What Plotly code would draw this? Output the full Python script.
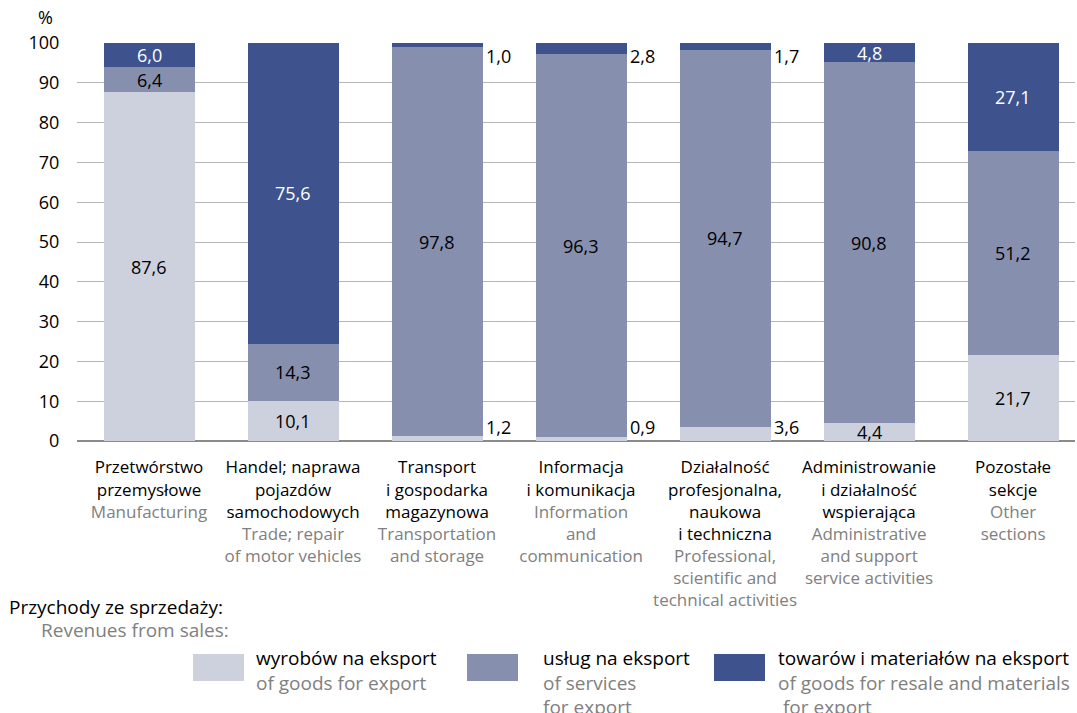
import plotly.graph_objects as go

categories_pl = [
    "Przetwórstwo<br>przemysłowe",
    "Handel; naprawa<br>pojazdów<br>samochodowych",
    "Transport<br>i gospodarka<br>magazynowa",
    "Informacja<br>i komunikacja",
    "Działalność<br>profesjonalna,<br>naukowa<br>i techniczna",
    "Administrowanie<br>i działalność<br>wspierająca",
    "Pozostałe<br>sekcje",
]
categories_en = [
    ["Manufacturing"],
    ["Trade; repair", "of motor vehicles"],
    ["Transportation", "and storage"],
    ["Information", "and", "communication"],
    ["Professional,", "scientific and", "technical activities"],
    ["Administrative", "and support", "service activities"],
    ["Other", "sections"],
]
goods = [87.6, 10.1, 1.2, 0.9, 3.6, 4.4, 21.7]
services = [6.4, 14.3, 97.8, 96.3, 94.7, 90.8, 51.2]
resale = [6.0, 75.6, 1.0, 2.8, 1.7, 4.8, 27.1]

series_pl = ["wyrobów na eksport", "usług na eksport", "towarów i materiałów na eksport"]
series_en = [["of goods for export"], ["of services", "for export"],
             ["of goods for resale and materials", "\u00a0for export"]]
colors = ["#cdd1dd", "#868fae", "#3e528e"]
label_colors = ["#000000", "#000000", "#ffffff"]

GRAY = "#808080"
FONT = "Open Sans"

W, H = 1077, 713
L, R, T, B = 77, 2, 43, 272
PW, PH = W - L - R, H - T - B


def px(x):
    return (x - L) / PW


def py(y):
    return (H - B - y) / PH


x = list(range(len(categories_pl)))
ticktext = []
for pl, en in zip(categories_pl, categories_en):
    ticktext.append(pl + "<br>" + "<br>".join(f"<span style='color:{GRAY}'>{e}</span>" for e in en))

fig = go.Figure()
all_series = [goods, services, resale]
for vals, col, name in zip(all_series, colors, series_pl):
    fig.add_trace(go.Bar(x=x, y=vals, marker=dict(color=col, line=dict(width=0)),
                         name=name, showlegend=False, hoverinfo="skip"))

bargap = 0.368
half = (1 - bargap) / 2


def fmt(v):
    return f"{v:.1f}".replace(".", ",")


VAL_SIZE = 18
annotations = []
for i in x:
    base = 0
    for s, vals in enumerate(all_series):
        v = vals[i]
        if v < 4:
            if s == 0:
                annotations.append(dict(x=i + half, y=0, xref="x", yref="y", text=fmt(v),
                                        showarrow=False, xanchor="left", yanchor="bottom",
                                        xshift=1, yshift=0, font=dict(size=VAL_SIZE, color="#000")))
            else:
                annotations.append(dict(x=i + half, y=100, xref="x", yref="y", text=fmt(v),
                                        showarrow=False, xanchor="left", yanchor="top",
                                        xshift=1, yshift=1, font=dict(size=VAL_SIZE, color="#000")))
        else:
            annotations.append(dict(x=i, y=base + v / 2, xref="x", yref="y", text=fmt(v),
                                    showarrow=False, xanchor="center", yanchor="middle",
                                    font=dict(size=VAL_SIZE, color=label_colors[s])))
        base += v

annotations.append(dict(x=px(45), y=py(17), xref="paper", yref="paper", text="%",
                        xanchor="center", yanchor="middle",
                        showarrow=False, font=dict(size=18, color="#000")))
annotations.append(dict(x=px(7), y=py(607), xref="paper", yref="paper", xanchor="left",
                        yanchor="middle", text="Przychody ze sprzedaży:", showarrow=False,
                        font=dict(size=19, color="#000")))
annotations.append(dict(x=px(39), y=py(630), xref="paper", yref="paper", xanchor="left",
                        yanchor="middle", text="Revenues from sales:", showarrow=False,
                        font=dict(size=19, color=GRAY)))

shapes = []
legend_x = [193, 467, 714]
text_x = [254, 541, 776]
for k in range(3):
    shapes.append(dict(type="rect", xref="paper", yref="paper",
                       x0=px(legend_x[k]), x1=px(legend_x[k] + 51),
                       y0=py(681), y1=py(654), fillcolor=colors[k], line=dict(width=0)))
    txt = series_pl[k] + "<br>" + "<br>".join(f"<span style='color:{GRAY}'>{e}</span>" for e in series_en[k])
    annotations.append(dict(x=px(text_x[k]), y=py(643), xref="paper", yref="paper",
                            xanchor="left", yanchor="top", align="left", text=txt,
                            showarrow=False, font=dict(size=19, color="#000")))

fig.update_layout(
    barmode="stack",
    bargap=bargap,
    width=W, height=H,
    margin=dict(l=L, r=R, t=T, b=B),
    paper_bgcolor="white", plot_bgcolor="white",
    font=dict(family=FONT, size=16, color="#000"),
    annotations=annotations,
    shapes=shapes,
    xaxis=dict(tickmode="array", tickvals=x, ticktext=ticktext, range=[-0.5, 6.43],
               ticks="outside", ticklen=11, tickcolor="rgba(0,0,0,0)",
               tickfont=dict(size=17, color="#000"), showgrid=False, fixedrange=True),
    yaxis=dict(range=[0, 100], dtick=10, showgrid=True, gridcolor="#b5b5b5", gridwidth=1,
               zeroline=True, zerolinecolor="#8a8a8a", zerolinewidth=2,
               ticks="outside", ticklen=13, tickcolor="rgba(0,0,0,0)",
               tickfont=dict(size=18, color="#000"), fixedrange=True),
)

fig.write_html("out.html", config={"displayModeBar": False},
               post_script="document.body.style.margin='0';")
